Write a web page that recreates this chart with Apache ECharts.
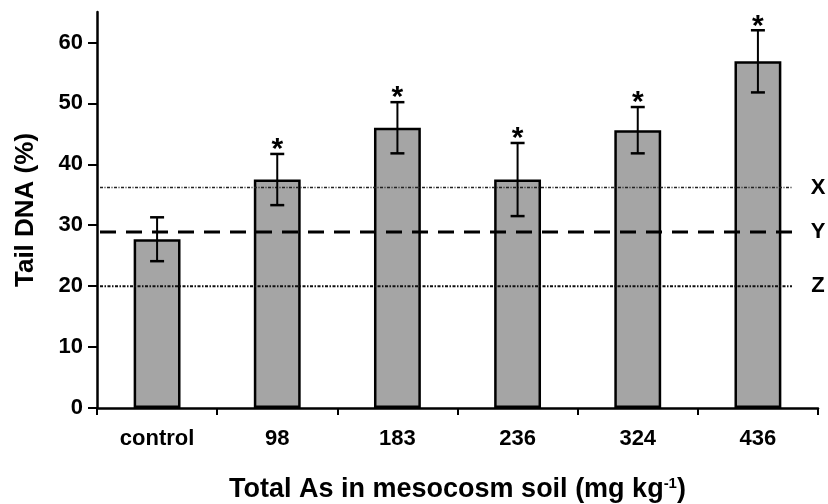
<!DOCTYPE html>
<html>
<head>
<meta charset="utf-8">
<script src="https://cdn.jsdelivr.net/npm/echarts@6/dist/echarts.min.js"></script>
<style>
  html, body { margin: 0; padding: 0; background: #fff; }
  #chart { width: 828px; height: 504px; }
</style>
</head>
<body>
<div id="chart"></div>
<script>
// Tail DNA (%) by total As concentration in mesocosm soil
const categories = ['control', '98', '183', '236', '324', '436'];
const meanTail = [27.7, 37.5, 46.0, 37.5, 45.6, 56.9];
const errTail = [3.6, 4.2, 4.2, 6.0, 3.8, 5.1];
const significant = [false, true, true, true, true, true];

// horizontal reference levels
const refNames = ['X', 'Y', 'Z'];
const refLevels = [36.2, 28.9, 20];

const yTicks = [0, 10, 20, 30, 40, 50, 60];

const FONT = '"Liberation Sans", Arial, sans-serif';

const errData = categories.map((c, i) => [i, meanTail[i], errTail[i], significant[i] ? 1 : 0]);
const refData = refLevels.map((v, i) => [0, v, i]);

const refStyles = [
  { lineWidth: 1.5, lineDash: [3, 1.5, 1, 1.5], stroke: '#222' },
  { lineWidth: 3, lineDash: [16, 10], stroke: '#000' },
  { lineWidth: 2, lineDash: [3, 1.5, 1.5, 1.5], stroke: '#111' }
];

const chart = echarts.init(document.getElementById('chart'), null, { renderer: 'canvas' });

chart.setOption({
  animation: false,
  backgroundColor: '#fff',
  grid: { left: 97, right: 10, top: 12, bottom: 96, containLabel: false, outerBoundsMode: 'none' },
  xAxis: {
    type: 'category',
    data: categories,
    boundaryGap: true,
    axisLine: { lineStyle: { color: '#000', width: 2.5 } },
    axisTick: { show: true, alignWithLabel: false, length: 7, lineStyle: { color: '#000', width: 2 } },
    axisLabel: { margin: 20, color: '#000', fontFamily: FONT, fontWeight: 'bold', fontSize: 22 },
    name: 'Total As in mesocosm soil (mg kg{sup|-1})',
    nameLocation: 'middle',
    nameGap: 68,
    nameTextStyle: {
      color: '#000', fontFamily: FONT, fontWeight: 'bold', fontSize: 27,
      rich: {
        sup: { fontFamily: FONT, fontWeight: 'bold', fontSize: 15, color: '#000', verticalAlign: 'top', padding: [0, 0, 10, 0] }
      }
    },
    splitLine: { show: false }
  },
  yAxis: {
    type: 'value',
    min: 0,
    max: 65,
    interval: 10,
    axisLine: { show: true, lineStyle: { color: '#000', width: 2.5 } },
    axisTick: { show: true, length: 9, lineStyle: { color: '#000', width: 2 }, customValues: yTicks },
    axisLabel: {
      margin: 14, color: '#000', fontFamily: FONT, fontWeight: 'bold', fontSize: 22,
      customValues: yTicks,
      formatter: v => (v % 10 === 0 ? String(v) : '')
    },
    splitLine: { show: false },
    name: 'Tail DNA (%)',
    nameLocation: 'middle',
    nameGap: 58,
    nameTextStyle: { color: '#000', fontFamily: FONT, fontWeight: 'bold', fontSize: 26 }
  },
  series: [
    {
      type: 'bar',
      data: meanTail,
      barWidth: '39%',
      itemStyle: { color: '#a5a5a5', borderColor: '#000', borderWidth: 2.5 },
      z: 2
    },
    {
      // reference levels X / Y / Z with their labels at the right edge
      type: 'custom',
      data: refData,
      encode: { x: 0, y: 1 },
      z: 3,
      silent: true,
      renderItem: function (params, api) {
        const y = api.coord([0, api.value(1)])[1];
        const idx = api.value(2);
        const cs = params.coordSys;
        const x0 = cs.x + 3;
        const x1 = cs.x + cs.width - 26;
        const st = refStyles[idx];
        return {
          type: 'group',
          children: [
            {
              type: 'line',
              shape: { x1: x0, y1: y, x2: x1, y2: y },
              style: { stroke: st.stroke, lineWidth: st.lineWidth, lineDash: st.lineDash }
            },
            {
              type: 'text',
              x: cs.x + cs.width,
              y: y,
              style: {
                text: refNames[idx], fill: '#000', font: 'bold 22px ' + FONT,
                textAlign: 'center', textVerticalAlign: 'middle'
              }
            }
          ]
        };
      }
    },
    {
      // error bars and significance marks
      type: 'custom',
      data: errData,
      encode: { x: 0, y: 1 },
      z: 4,
      silent: true,
      renderItem: function (params, api) {
        const i = api.value(0);
        const m = api.value(1);
        const e = api.value(2);
        const top = api.coord([i, m + e]);
        const bot = api.coord([i, m - e]);
        const hw = 7;
        const children = [
          { type: 'line', shape: { x1: top[0], y1: top[1], x2: bot[0], y2: bot[1] }, style: { stroke: '#000', lineWidth: 2 } },
          { type: 'line', shape: { x1: top[0] - hw, y1: top[1], x2: top[0] + hw, y2: top[1] }, style: { stroke: '#000', lineWidth: 2.5 } },
          { type: 'line', shape: { x1: bot[0] - hw, y1: bot[1], x2: bot[0] + hw, y2: bot[1] }, style: { stroke: '#000', lineWidth: 2.5 } }
        ];
        if (api.value(3)) {
          children.push({
            type: 'text',
            x: top[0],
            y: top[1] + 11,
            style: { text: '*', fill: '#000', font: 'bold 30px ' + FONT, textAlign: 'center', textVerticalAlign: 'bottom' }
          });
        }
        return { type: 'group', children: children };
      }
    }
  ]
});
</script>
</body>
</html>
